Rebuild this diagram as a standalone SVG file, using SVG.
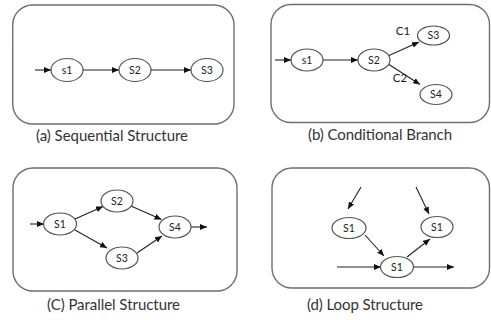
<svg xmlns="http://www.w3.org/2000/svg" width="491" height="320" viewBox="0 0 491 320">
<style>
.frame{fill:none;stroke:#6e6e6e;stroke-width:1.4}
.node ellipse{fill:#fff;stroke:#555;stroke-width:1.2}
.node text{font-family:Lato,"Liberation Sans",sans-serif;font-size:10.5px;fill:#222;text-anchor:middle}
.edge{fill:none;stroke:#222;stroke-width:1.1;marker-end:url(#ah)}
.cap{font-family:Lato,"Liberation Sans",sans-serif;font-size:15px;fill:#333}
.lbl{font-family:Lato,"Liberation Sans",sans-serif;font-size:11.5px;fill:#222;text-anchor:middle}
</style>
<defs>
<marker id="ah" markerUnits="userSpaceOnUse" markerWidth="7" markerHeight="6" refX="7" refY="3" orient="auto">
<path d="M0,0 L7,3 L0,6 z" fill="#111"/>
</marker>
</defs>
<rect width="491" height="320" fill="#fff"/>
<g id="panel-a">
<rect class="frame" x="12.7" y="5" width="221.3" height="119" rx="20"/>
<text class="cap" x="36" y="141" textLength="152">(a) Sequential Structure</text>
</g>
<g id="panel-b">
<rect class="frame" x="271" y="4.5" width="218.5" height="118" rx="20"/>
<text class="cap" x="308" y="140" textLength="144">(b) Conditional Branch</text>
<text class="lbl" x="403" y="35">C1</text>
<text class="lbl" x="400" y="82">C2</text>
</g>
<g id="panel-c">
<rect class="frame" x="13" y="168" width="224" height="123" rx="20"/>
<text class="cap" x="47" y="310" textLength="133">(C) Parallel Structure</text>
</g>
<g id="panel-d">
<rect class="frame" x="272" y="168" width="217.5" height="120" rx="20"/>
<text class="cap" x="307" y="310" textLength="116">(d) Loop Structure</text>
</g>
<g id="connectors">
<line class="edge" x1="35" y1="70" x2="51" y2="70"/>
<line class="edge" x1="83" y1="70" x2="119" y2="70"/>
<line class="edge" x1="151" y1="70" x2="191" y2="70"/>
<line class="edge" x1="275" y1="60" x2="291" y2="60"/>
<line class="edge" x1="323" y1="60" x2="358" y2="60"/>
<line class="edge" x1="389" y1="55.5" x2="419" y2="42"/>
<line class="edge" x1="389" y1="64.5" x2="420" y2="84.5"/>
<line class="edge" x1="30" y1="224" x2="44" y2="224"/>
<line class="edge" x1="75" y1="219" x2="103" y2="206.5"/>
<line class="edge" x1="75" y1="230" x2="107" y2="248"/>
<line class="edge" x1="131" y1="206" x2="161.5" y2="219.5"/>
<line class="edge" x1="137" y1="253" x2="162" y2="236"/>
<line class="edge" x1="191" y1="227" x2="207" y2="227"/>
<line class="edge" x1="361" y1="187" x2="348" y2="209"/>
<line class="edge" x1="416" y1="187" x2="429" y2="214"/>
<line class="edge" x1="365" y1="235" x2="384" y2="256"/>
<line class="edge" x1="407" y1="257" x2="430" y2="239"/>
<line class="edge" x1="337" y1="267" x2="381" y2="267"/>
<line class="edge" x1="413" y1="267" x2="454" y2="267"/>
</g>
<g id="a-s1" class="node"><ellipse cx="67" cy="70" rx="16" ry="11.5"/><text x="67" y="73.5">s1</text></g>
<g id="a-s2" class="node"><ellipse cx="135" cy="70" rx="16" ry="11.5"/><text x="135" y="73.5">S2</text></g>
<g id="a-s3" class="node"><ellipse cx="207" cy="70" rx="16" ry="11.5"/><text x="207" y="73.5">S3</text></g>
<g id="b-s1" class="node"><ellipse cx="307" cy="60" rx="16" ry="11"/><text x="307" y="63.5">s1</text></g>
<g id="b-s2" class="node"><ellipse cx="374" cy="60" rx="16" ry="11"/><text x="374" y="63.5">S2</text></g>
<g id="b-s3" class="node"><ellipse cx="433.5" cy="35.5" rx="16" ry="9.5"/><text x="433.5" y="39">S3</text></g>
<g id="b-s4" class="node"><ellipse cx="436" cy="94.5" rx="16" ry="10"/><text x="436" y="98">S4</text></g>
<g id="c-s1" class="node"><ellipse cx="60" cy="224" rx="16.5" ry="11"/><text x="60" y="227.5">S1</text></g>
<g id="c-s2" class="node"><ellipse cx="117" cy="201" rx="16" ry="11"/><text x="117" y="204.5">S2</text></g>
<g id="c-s3" class="node"><ellipse cx="122" cy="258" rx="16" ry="11"/><text x="122" y="261.5">S3</text></g>
<g id="c-s4" class="node"><ellipse cx="175" cy="227" rx="16" ry="11"/><text x="175" y="230.5">S4</text></g>
<g id="d-s1-left" class="node"><ellipse cx="349" cy="228" rx="17" ry="10.5"/><text x="349" y="231.5">S1</text></g>
<g id="d-s1-right" class="node"><ellipse cx="437" cy="227" rx="16" ry="10.5"/><text x="437" y="230.5">S1</text></g>
<g id="d-s1-bottom" class="node"><ellipse cx="397" cy="267" rx="16.5" ry="10.5"/><text x="397" y="270.5">S1</text></g>
</svg>
